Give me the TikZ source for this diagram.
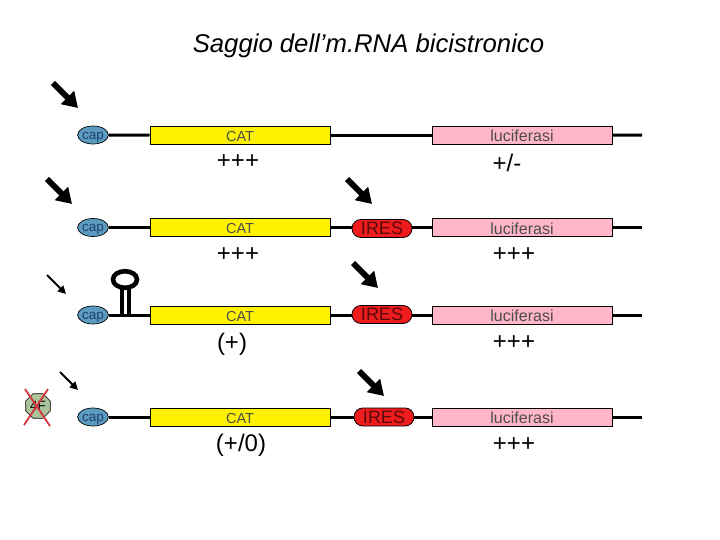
\documentclass[tikz,border=0pt]{standalone}
\usepackage{fontspec}
\setmainfont{Liberation Sans}
\usetikzlibrary{shapes.geometric,arrows.meta}
\definecolor{capblue}{HTML}{5B9BC0}
\definecolor{capink}{HTML}{1F3F6F}
\definecolor{lucpink}{HTML}{FFB6C8}
\definecolor{iresred}{HTML}{EE1C1C}
\definecolor{iresink}{HTML}{5A0A0A}
\definecolor{eifgreen}{HTML}{ABC49C}
\definecolor{crossred}{HTML}{D8323C}
\tikzset{
  x=1pt,y=-1pt,
  capnode/.style={draw=black,line width=.7pt,fill=capblue,ellipse,minimum width=30pt,minimum height=18pt,inner sep=0pt,text=capink,text height=10.5pt,text depth=2pt,font=\fontsize{13.5}{14}\selectfont},
  catbox/.style={draw=black,line width=1pt,fill=yellow,minimum width=180pt,minimum height=18pt,inner sep=0pt,text=black!70,text height=12pt,text depth=0pt,font=\fontsize{14.5}{15}\selectfont},
  lucbox/.style={draw=black,line width=1pt,fill=lucpink,minimum width=180pt,minimum height=18pt,inner sep=0pt,text=black!70,text height=13pt,text depth=0pt,font=\fontsize{16}{16}\selectfont},
  iresbox/.style={draw=black,line width=.8pt,fill=iresred,rounded corners=8.9pt,minimum width=60pt,minimum height=18pt,inner sep=0pt,text=iresink,font=\fontsize{18}{18}\selectfont},
  rna/.style={line width=3pt},
  bigarrow/.style={line width=6pt,-{Triangle[length=15pt,width=18pt]}},
  thinarrow/.style={line width=2pt,-{Triangle[length=8pt,width=8pt]}},
  level/.style={inner sep=0pt,font=\fontsize{24}{24}\selectfont},
  xmark/.style={crossred,line width=1.8pt}
}
\begin{document}
\begin{tikzpicture}
\useasboundingbox (0,0) rectangle (720,540);
\node[inner sep=0pt,font=\fontsize{25.7}{26}\selectfont\itshape] (title) at (368.5,45.5) {Saggio dell’m.RNA bicistronico};
% row 1
\coordinate (e1) at (642,135);
\node[capnode] (c1) at (93,135) {cap};
\node[catbox] (a1) at (240,135.5) {CAT};
\node[lucbox] (l1) at (522,135.5) {luciferasi};
\draw[rna] (c1) -- (a1);
\draw[rna] (a1) -- (l1);
\draw[rna] (l1) -- (e1);
% row 2
\coordinate (e2) at (642,227.5);
\node[capnode] (c2) at (93,227.5) {cap};
\node[catbox] (a2) at (240,227.5) {CAT};
\node[iresbox] (i2) at (382,228.5) {IRES};
\node[lucbox] (l2) at (522,227.5) {luciferasi};
\draw[rna] (c2) -- (a2);
\draw[rna] (a2.east) -- (i2.west |- a2.east);
\draw[rna] (i2.east |- l2.west) -- (l2.west);
\draw[rna] (l2) -- (e2);
% row 3
\coordinate (e3) at (642,315);
\node[capnode] (c3) at (93,315) {cap};
\node[catbox] (a3) at (240,315) {CAT};
\node[iresbox] (i3) at (382,314.5) {IRES};
\node[lucbox] (l3) at (522,315) {luciferasi};
\draw[rna] (c3) -- (a3);
\draw[rna] (a3.east) -- (i3.west |- a3.east);
\draw[rna] (i3.east |- l3.west) -- (l3.west);
\draw[rna] (l3) -- (e3);
% row 4
\coordinate (e4) at (642,417);
\node[capnode] (c4) at (93,417) {cap};
\node[catbox] (a4) at (240,417) {CAT};
\node[iresbox] (i4) at (384,417) {IRES};
\node[lucbox] (l4) at (522,417) {luciferasi};
\draw[rna] (c4) -- (a4);
\draw[rna] (a4) -- (i4);
\draw[rna] (i4) -- (l4);
\draw[rna] (l4) -- (e4);
% hairpin
\draw[line width=4.6pt] (125,279.5) ellipse (12 and 8.3);
\draw[line width=4pt] (121.5,288) -- (121.5,315);
\draw[line width=4pt] (128.5,288) -- (128.5,315);
% levels
\node[level] (p1) at (238,162) {+++};
\node[level] (q1) at (507,163) {+/-};
\node[level] (p2) at (238,255) {+++};
\node[level] (q2) at (514,255) {+++};
\node[level] (p3) at (232,344) {(+)};
\node[level] (q3) at (514,343) {+++};
\node[level] (p4) at (241,445) {(+/0)};
\node[level] (q4) at (514,445) {+++};
% arrows
\draw[bigarrow] (53,83) -- (78,108);
\draw[bigarrow] (47,179) -- (72,204);
\draw[thinarrow] (47,275) -- (66,294);
\draw[thinarrow] (60,372) -- (78,390);
\draw[bigarrow] (347,179) -- (372,204);
\draw[bigarrow] (353,263) -- (378,288);
\draw[bigarrow] (359,371) -- (384,396);
% eIF
\node[draw=black,line width=.6pt,fill=eifgreen,regular polygon,regular polygon sides=8,minimum size=26.5pt,inner sep=0pt,font=\fontsize{13.5}{14}\selectfont] (f) at (38,406) {4F};
\draw[xmark] (25,389) -- (50,426);
\draw[xmark] (48,389) -- (24,425);
\end{tikzpicture}
\end{document}
